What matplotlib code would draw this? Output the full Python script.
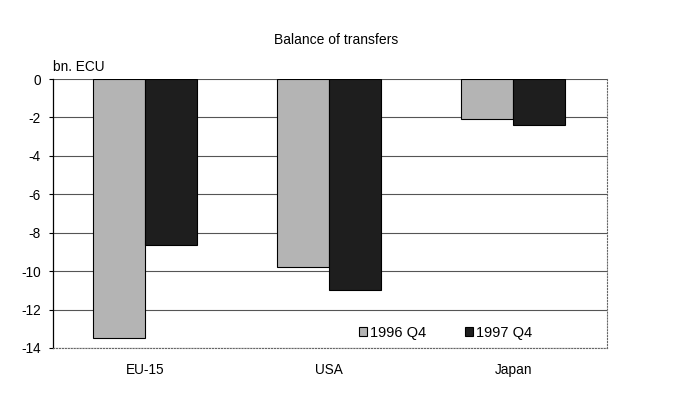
import numpy as np
import matplotlib
matplotlib.use("Agg")
import matplotlib.pyplot as plt

plt.rcParams['font.family'] = ['Liberation Sans', 'DejaVu Sans']

regions = ["EU-15", "USA", "Japan"]
q4_1996 = [-13.5, -9.8, -2.1]
q4_1997 = [-8.65, -11.0, -2.4]
series_names = ["1996 Q4", "1997 Q4"]
yticks = [0, -2, -4, -6, -8, -10, -12, -14]

fig = plt.figure(figsize=(6.77, 4.16), dpi=100)
ax = fig.add_axes([0.0783, 0.1635, 0.8183, 0.6465])

x = np.arange(len(regions))
w = 0.283
ax.bar(x - w / 2, q4_1996, w, color="#b4b4b4", edgecolor="black", linewidth=0.8,
       label=series_names[0], zorder=3)
ax.bar(x + w / 2, q4_1997, w, color="#1e1e1e", edgecolor="black", linewidth=0.8,
       label=series_names[1], zorder=3)

ax.set_xlim(-0.5, 2.51)
ax.set_ylim(-14, 0)
ax.set_yticks(yticks)
ax.set_yticklabels([str(t) for t in yticks], fontsize=9.8)
ax.set_xticks(x)
ax.set_xticklabels(regions, fontsize=9.8)
ax.tick_params(axis='x', length=0, pad=11)
ax.tick_params(axis='y', length=3, direction='out', pad=6)
ax.yaxis.grid(True, color="#555555", linewidth=0.8, zorder=0)

ax.spines['top'].set_visible(False)
ax.spines['right'].set_linestyle(':')
ax.spines['right'].set_color('#666666')
ax.spines['bottom'].set_linestyle(':')
ax.spines['bottom'].set_color('#666666')
ax.spines['left'].set_linewidth(0.9)

fig.text(0.496, 0.903, "Balance of transfers", ha='center', va='center', fontsize=10)
fig.text(0.078, 0.838, "bn. ECU", ha='left', va='center', fontsize=9.8)

ax.legend(loc='center left', bbox_to_anchor=(0.552, 0.056), ncol=2, frameon=False,
          fontsize=10.5, handlelength=0.55, handleheight=0.55, columnspacing=2.6,
          handletextpad=0.25, borderpad=0, borderaxespad=0)

fig.savefig("out.png", dpi=100)
